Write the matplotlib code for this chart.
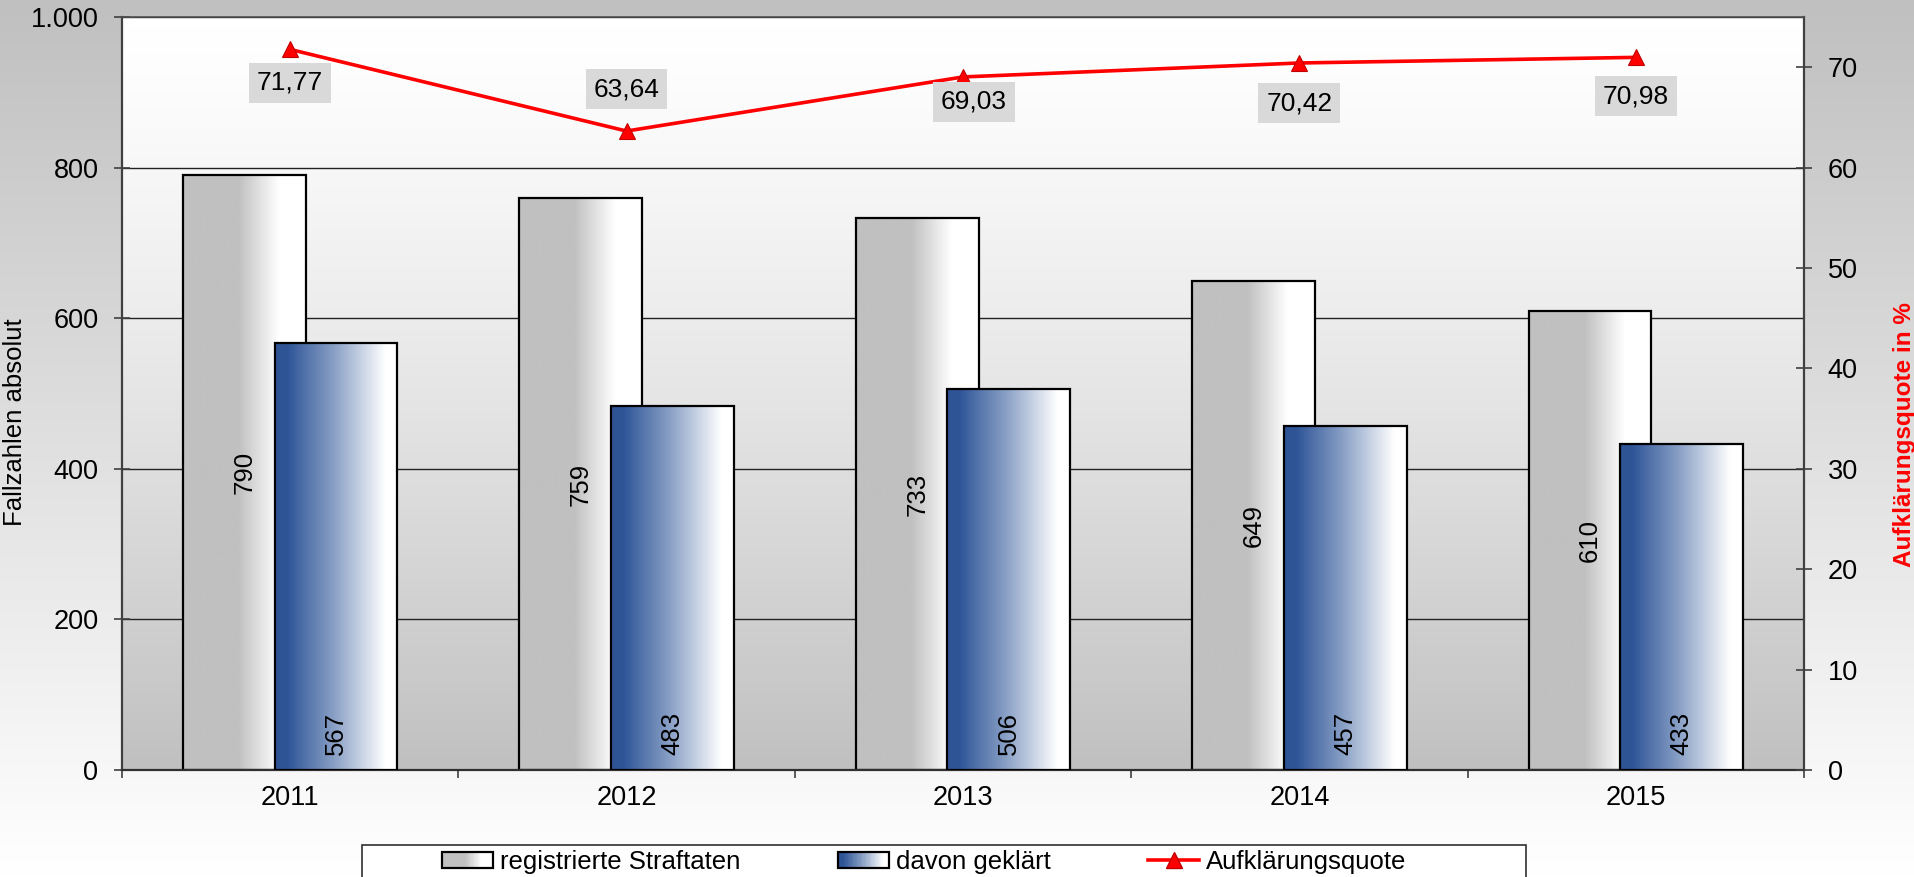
import numpy as np
import matplotlib
matplotlib.use("Agg")
import matplotlib.pyplot as plt
from matplotlib.colors import LinearSegmentedColormap
from matplotlib.patches import Rectangle
from matplotlib.lines import Line2D
from matplotlib.legend_handler import HandlerBase

# data
years = ["2011", "2012", "2013", "2014", "2015"]
registriert = [790, 759, 733, 649, 610]
geklaert = [567, 483, 506, 457, 433]
quote = [71.77, 63.64, 69.03, 70.42, 70.98]

left_ticks = [0, 200, 400, 600, 800, 1000]
right_ticks = [0, 10, 20, 30, 40, 50, 60, 70]

# label placement of the rate labels (points, relative to the marker)
quote_label_dy = [-24, 30, -18, -29, -28]
quote_label_dx = [0, 0, 8, 0, 0]

plt.rcParams['font.family'] = ['Liberation Sans', 'DejaVu Sans']
FS = 18.5
TICK_FS = 19.5

gray_cmap = LinearSegmentedColormap.from_list(
    "graybar", [(0, "#c0c0c0"), (0.45, "#c0c0c0"), (0.78, "#ffffff"), (1, "#ffffff")])
blue_cmap = LinearSegmentedColormap.from_list(
    "bluebar", [(0, "#2e5495"), (0.1, "#2f5597"), (0.5, "#8ea4c8"), (0.9, "#ffffff"), (1, "#ffffff")])

fig = plt.figure(figsize=(19.15, 8.77), dpi=100)

# figure background gradient (gray top -> white bottom)
bg = fig.add_axes([0, 0, 1, 1], zorder=-10)
grad = np.linspace(0, 1, 256).reshape(-1, 1)
bg.imshow(grad, cmap=LinearSegmentedColormap.from_list("figbg", ["#c0c0c0", "#ffffff"]),
          aspect="auto", extent=[0, 1, 0, 1], origin="upper")
bg.set_axis_off()

rect = [122 / 1915, 1 - 770 / 877, (1804 - 122) / 1915, (770 - 17) / 877]

# plot area gradient (white top -> gray bottom)
pbg = fig.add_axes(rect, zorder=-5)
pgrad = (np.linspace(0, 1, 256) ** 1.3).reshape(-1, 1)
pbg.imshow(pgrad, cmap=LinearSegmentedColormap.from_list("plotbg", ["#ffffff", "#c0c0c0"]),
           aspect="auto", extent=[0, 1, 0, 1], origin="upper")
pbg.set_axis_off()

ax = fig.add_axes(rect)
ax.patch.set_visible(False)

x = np.arange(len(years))
w = 0.365
off = 0.136


def gradient_bars(xpos, vals, cmap, z):
    bars = ax.bar(xpos, vals, width=w, facecolor="none", edgecolor="black",
                  linewidth=1.6, zorder=z + 0.1)
    g = np.linspace(0, 1, 256).reshape(1, -1)
    for b in bars:
        x0, y0 = b.get_x(), b.get_y()
        im = ax.imshow(g, cmap=cmap, aspect="auto", zorder=z,
                       extent=[x0, x0 + b.get_width(), y0, y0 + b.get_height()])
        im.set_clip_path(b)
    return bars


bars1 = gradient_bars(x - off, registriert, gray_cmap, 2)
bars2 = gradient_bars(x + off, geklaert, blue_cmap, 3)

for b, v in zip(bars1, registriert):
    ax.text(b.get_x() + b.get_width() / 2, v / 2, str(v), rotation=90,
            ha="center", va="center", fontsize=FS, zorder=5)
for b, v in zip(bars2, geklaert):
    ax.annotate(str(v), (b.get_x() + b.get_width() / 2, 0), xytext=(0, 11),
                textcoords="offset points", rotation=90, ha="center", va="bottom",
                fontsize=FS, zorder=5)

ax.set_xlim(-0.5, len(years) - 0.5)
ax.set_ylim(0, 1000)
ax.set_yticks(left_ticks)
ax.set_yticklabels([f"{t:,}".replace(",", ".") for t in left_ticks], fontsize=TICK_FS)
ax.yaxis.grid(True, color="#222222", linewidth=1.0, zorder=0)
ax.set_axisbelow(True)
ax.tick_params(axis="y", direction="inout", length=12, width=1.2, pad=11, color="#404040")

ax.set_xticks(x)
ax.set_xticklabels(years, fontsize=TICK_FS)
ax.set_xticks(np.arange(len(years) + 1) - 0.5, minor=True)
ax.tick_params(axis="x", which="major", length=0, pad=11)
ax.tick_params(axis="x", which="minor", direction="out", length=6, width=1.2, color="#404040")

for s in ["left", "right"]:
    ax.spines[s].set_color("#404040")
    ax.spines[s].set_linewidth(1.6)
ax.spines["top"].set_color("#505050")
ax.spines["top"].set_linewidth(1.2)
ax.spines["bottom"].set_color("#303030")
ax.spines["bottom"].set_linewidth(1.6)

ax.set_ylabel("Fallzahlen absolut", fontsize=FS)
ax.yaxis.set_label_coords(-0.0565, 0.462)

# rate line on the right axis
ax2 = ax.twinx()
ax2.plot(x, quote, color="#ff0000", linewidth=2.6, marker="^", markersize=12,
         markerfacecolor="#ff0000", markeredgecolor="#c00000", markeredgewidth=0.8, zorder=6)
ax2.set_ylim(0, 75)
ax2.set_yticks(right_ticks)
ax2.set_yticklabels([str(t) for t in right_ticks], fontsize=TICK_FS)
ax2.tick_params(axis="y", direction="inout", length=12, width=1.2, pad=11, color="#404040")
for s in ax2.spines.values():
    s.set_visible(False)

for xi, q, dy, dx in zip(x, quote, quote_label_dy, quote_label_dx):
    ax2.annotate(f"{q:.2f}".replace(".", ","), (xi, q), xytext=(dx, dy),
                 textcoords="offset points", ha="center", va="center", fontsize=FS + 0.5,
                 bbox=dict(boxstyle="square,pad=0.3", facecolor="#d9d9d9", edgecolor="none"),
                 zorder=7)

ax2.set_ylabel("Aufklärungsquote in %", fontsize=17.5, fontweight="bold", color="#ff0000")
ax2.yaxis.set_label_coords(1.0529, 0.4455)


# legend with gradient swatches
class GradientHandler(HandlerBase):
    def __init__(self, cmap):
        super().__init__()
        self.cmap = cmap

    def create_artists(self, legend, orig_handle, xdescent, ydescent, width, height,
                       fontsize, trans):
        n = 40
        arts = []
        for i in range(n):
            arts.append(Rectangle((-xdescent + width * i / n, -ydescent), width / n + 0.3, height,
                                  facecolor=self.cmap(i / (n - 1)), edgecolor="none",
                                  transform=trans))
        arts.append(Rectangle((-xdescent, -ydescent), width, height, fill=False,
                              edgecolor="black", linewidth=1.6, transform=trans))
        return arts


h1 = Rectangle((0, 0), 1, 1)
h2 = Rectangle((0, 0), 1, 1)
h3 = Line2D([], [], color="#ff0000", linewidth=2.6, marker="^", markersize=12,
            markerfacecolor="#ff0000", markeredgecolor="#c00000")

fig.patches.append(Rectangle((362 / 1915, -0.05), (1526 - 362) / 1915, 0.05 + 1 - 845 / 877,
                             transform=fig.transFigure, facecolor="white",
                             edgecolor="#303030", linewidth=1.2, zorder=1))

fig.legend([h1, h2, h3], ["registrierte Straftaten", "davon geklärt", "Aufklärungsquote"],
           handler_map={h1: GradientHandler(gray_cmap), h2: GradientHandler(blue_cmap)},
           loc="center", bbox_to_anchor=(924 / 1915, 1 - 862 / 877), ncol=3, frameon=False,
           fontsize=FS, handlelength=2.0, handleheight=0.6, handletextpad=0.25,
           columnspacing=3.8)

fig.savefig("out.png", dpi=100)
